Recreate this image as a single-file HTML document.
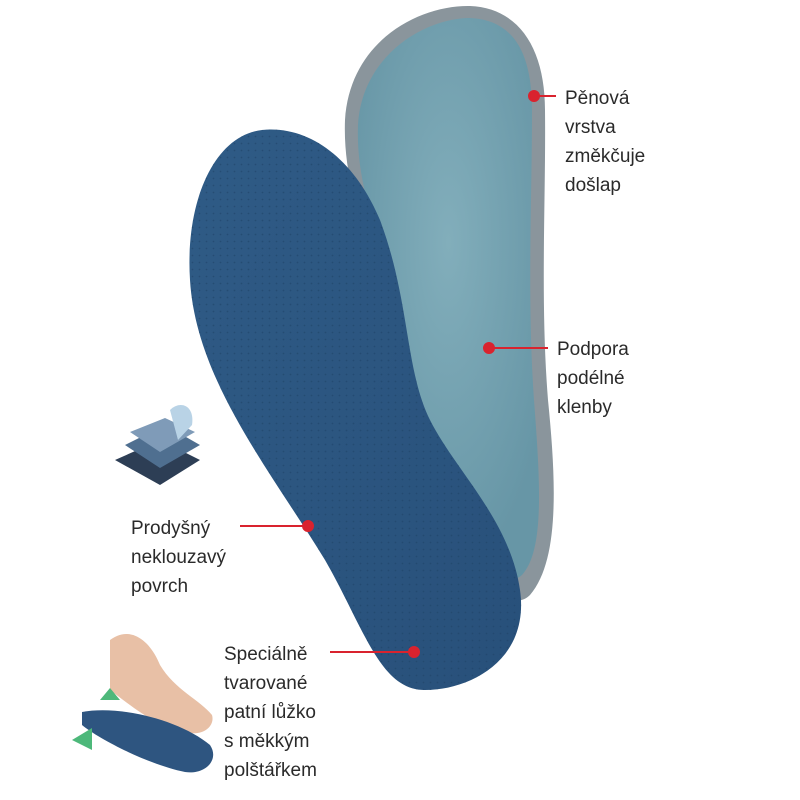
<!DOCTYPE html>
<html><head><meta charset="utf-8"><style>
html,body{margin:0;padding:0;background:#fff}
.t{position:absolute;font-family:"Liberation Sans",sans-serif;font-size:19px;line-height:29px;color:#2a2a2a}
</style></head><body>
<div style="position:relative;width:800px;height:800px;overflow:hidden">
<svg width="800" height="800" style="position:absolute;left:0;top:0">
<defs>
<radialGradient id="g1" cx="0.5" cy="0.4" r="0.6"><stop offset="0" stop-color="#82aebb"/><stop offset="1" stop-color="#6796a6"/></radialGradient>
<linearGradient id="g2" x1="0" y1="0" x2="1" y2="1"><stop offset="0" stop-color="#2f5b86"/><stop offset="1" stop-color="#28507a"/></linearGradient>
<pattern id="dots" width="7" height="7" patternUnits="userSpaceOnUse"><circle cx="3.5" cy="3.5" r="0.9" fill="#1f4468"/></pattern>
</defs>
<path d="M345,120 C350,40 420,5 470,6 C520,8 545,50 545,110 C546,200 540,300 548,400 C556,480 560,560 530,595 C510,615 470,580 450,540 C420,470 400,400 390,330 C380,260 342,200 345,120 Z" fill="#8a959c"/>
<path d="M358,125 C362,55 425,18 470,18 C515,20 532,55 532,110 C532,200 527,300 534,400 C540,480 545,550 522,575 C505,590 478,565 462,530 C435,470 415,400 403,330 C392,260 355,200 358,125 Z" fill="url(#g1)"/>
<path d="M262,130 C215,135 185,200 190,280 C196,380 270,470 325,560 C365,630 380,690 425,690 C470,690 530,660 520,590 C510,520 455,470 430,420 C405,370 410,300 380,220 C355,160 310,125 262,130 Z" fill="url(#g2)"/>
<path d="M262,130 C215,135 185,200 190,280 C196,380 270,470 325,560 C365,630 380,690 425,690 C470,690 530,660 520,590 C510,520 455,470 430,420 C405,370 410,300 380,220 C355,160 310,125 262,130 Z" fill="url(#dots)" opacity="0.6"/>
<polygon points="115,460 160,440 200,460 160,485" fill="#2d3e55"/>
<polygon points="125,445 165,425 200,445 160,468" fill="#4f6f90"/>
<polygon points="130,432 165,418 195,432 160,452" fill="#7f9bb8"/>
<path d="M170,410 C180,400 195,405 192,425 L178,440 Z" fill="#b9d3e6"/>
<path d="M110,640 C130,625 150,640 160,665 C175,690 200,700 212,715 C215,725 205,735 190,733 C160,730 130,705 110,690 Z" fill="#e8c0a6"/>
<path d="M82,712 C120,705 180,720 210,745 C220,760 205,775 185,772 C150,765 100,740 82,725 Z" fill="#2e5580"/>
<polygon points="72,740 92,728 92,750" fill="#4db87a"/>
<polygon points="100,700 110,688 120,700" fill="#4db87a"/>
<g stroke="#d9232e" stroke-width="2" fill="#d9232e">
<line x1="534" y1="96" x2="556" y2="96"/><circle cx="534" cy="96" r="5"/>
<line x1="489" y1="348" x2="548" y2="348"/><circle cx="489" cy="348" r="5"/>
<line x1="240" y1="526" x2="308" y2="526"/><circle cx="308" cy="526" r="5"/>
<line x1="330" y1="652" x2="414" y2="652"/><circle cx="414" cy="652" r="5"/>
</g>
</svg>
<div class="t" style="left:565px;top:84px">Pěnová<br>vrstva<br>změkčuje<br>došlap</div>
<div class="t" style="left:557px;top:335px">Podpora<br>podélné<br>klenby</div>
<div class="t" style="left:131px;top:514px">Prodyšný<br>neklouzavý<br>povrch</div>
<div class="t" style="left:224px;top:640px">Speciálně<br>tvarované<br>patní lůžko<br>s měkkým<br>polštářkem</div>
</div>
</body></html>
